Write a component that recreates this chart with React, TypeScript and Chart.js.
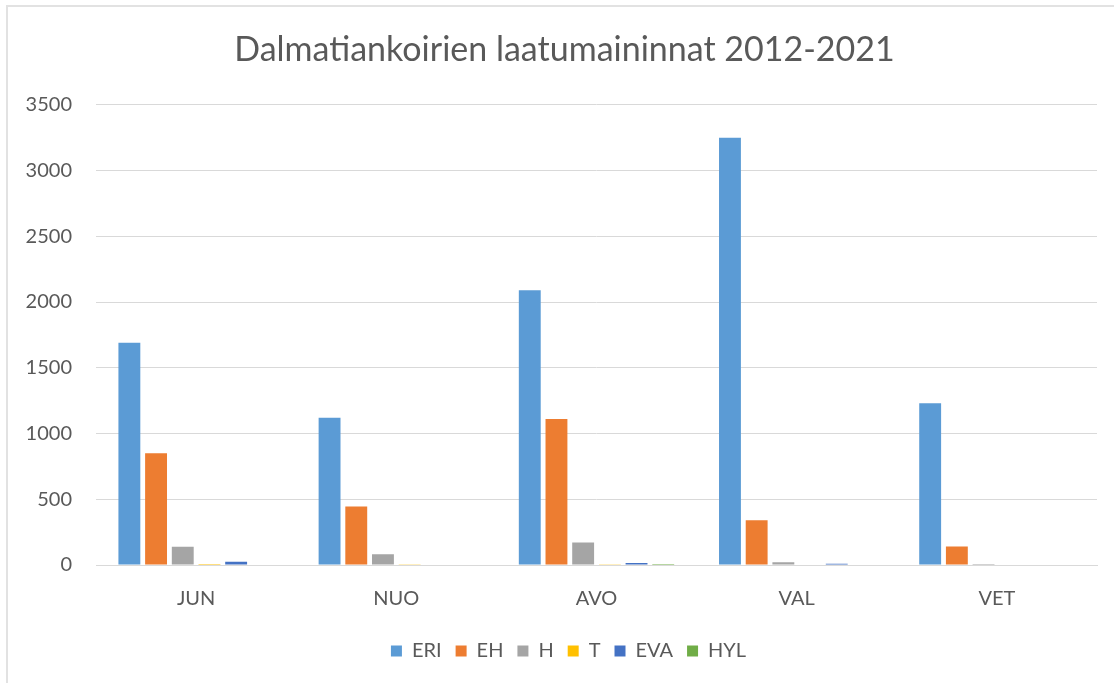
import React, { useEffect, useRef } from "react";
import { Chart, registerables } from "chart.js";

Chart.register(...registerables);

const categories = ["JUN", "NUO", "AVO", "VAL", "VET"];
const seriesNames = ["ERI", "EH", "H", "T", "EVA", "HYL"];
const eri = [1690, 1120, 2090, 3250, 1230];
const eh = [850, 445, 1110, 340, 140];
const h = [139, 82, 172, 20, 8];
const t = [7, 5, 5, 0, 0];
const eva = [25, 3, 15, 10, 0];
const hyl = [3, 0, 8, 0, 0];
const colors = ["#5B9BD5", "#ED7D31", "#A5A5A5", "#FFC000", "#4472C4", "#70AD47"];
const yTicks = [0, 500, 1000, 1500, 2000, 2500, 3000, 3500];

const FONT = "Lato, 'Open Sans', sans-serif";
const TEXT = "#595959";

const shiftPlugin = {
  id: "shiftBlocks",
  afterLayout(chart: any) {
    const d = 16;
    if (chart.legend) { chart.legend.left += d; chart.legend.right += d; }
    if (chart.titleBlock) { chart.titleBlock.left += 12; chart.titleBlock.right += 12; }
  },
};

export default function App() {
  const ref = useRef<HTMLCanvasElement>(null);
  useEffect(() => {
    if (!ref.current) return;
    const values = [eri, eh, h, t, eva, hyl];
    const chart = new Chart(ref.current, {
      type: "bar",
      data: {
        labels: categories,
        datasets: seriesNames.map((name, i) => ({
          label: name,
          data: values[i],
          backgroundColor: colors[i],
          borderWidth: 0,
          categoryPercentage: 0.8,
          barPercentage: 0.82,
        })),
      },
      plugins: [shiftPlugin],
      options: {
        animation: false,
        responsive: false,
        devicePixelRatio: 1,
        layout: { padding: { left: 8, right: 17, top: 0, bottom: 12 } },
        plugins: {
          title: {
            display: true,
            text: "Dalmatiankoirien laatumaininnat 2012-2021",
            color: TEXT,
            font: { family: FONT, size: 34, weight: "normal" },
            padding: { top: 30, bottom: 34 },
          },
          legend: {
            position: "bottom",
            labels: {
              color: TEXT,
              font: { family: FONT, size: 20 },
              boxWidth: 11,
              boxHeight: 11,
              padding: 14,
            },
          },
          tooltip: { enabled: false },
        },
        scales: {
          x: {
            afterFit: (s: any) => { s.height = 62; },
            grid: { display: false, drawTicks: false },
            border: { color: "#d9d9d9", width: 1 },
            ticks: { color: TEXT, font: { family: FONT, size: 20 }, padding: 22, autoSkip: false },
          },
          y: {
            min: 0,
            max: 3500,
            afterFit: (s: any) => { s.width = 88; },
            afterBuildTicks: (s: any) => { s.ticks = yTicks.map((v) => ({ value: v })); },
            grid: { color: "#d9d9d9", drawTicks: false },
            border: { display: false },
            ticks: {
              color: TEXT,
              font: { family: FONT, size: 20 },
              padding: 24,
              callback: (v: any) => String(v),
            },
          },
        },
      },
    });
    return () => chart.destroy();
  }, []);
  return (
    <div style={{ position: "absolute", left: 0, top: 0, width: 1114, height: 683, overflow: "hidden", background: "#fff" }}>
      <div style={{ position: "absolute", left: 6, top: 5, width: 1200, height: 800, border: "2px solid #e2e2e2" }} />
      <canvas ref={ref} width={1114} height={683} style={{ position: "absolute", left: 0, top: 0 }} />
    </div>
  );
}
